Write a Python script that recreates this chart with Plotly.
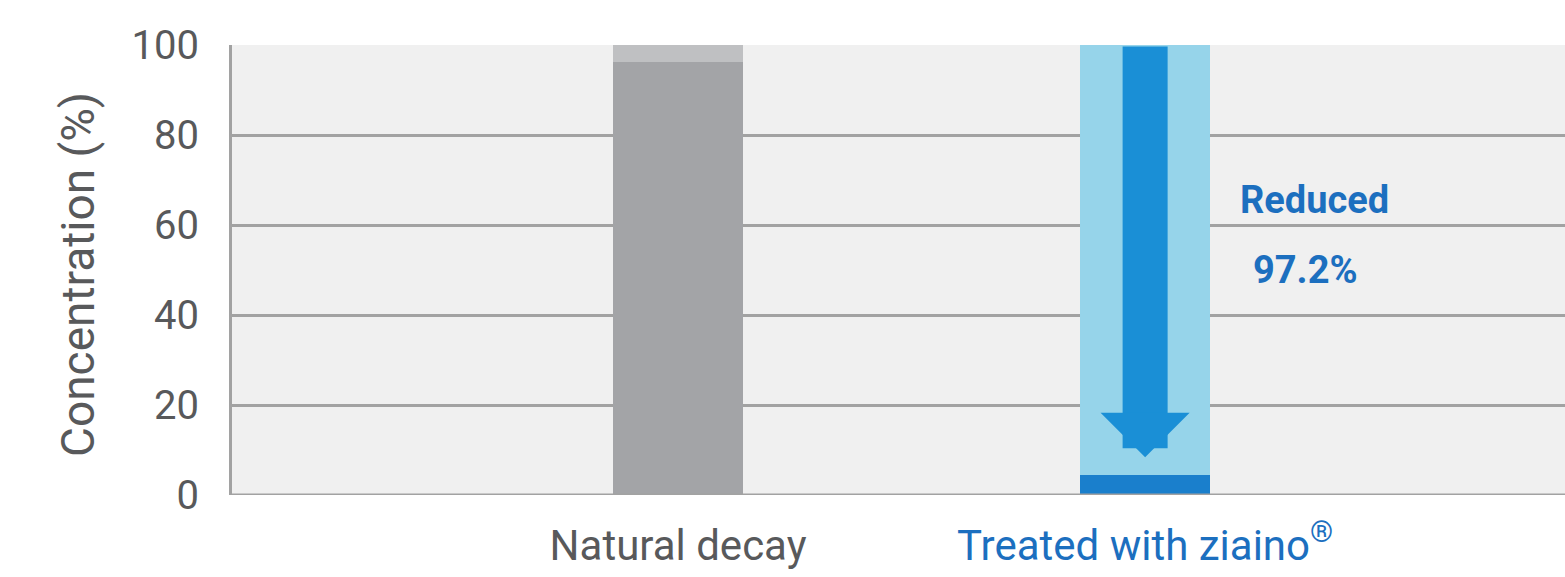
import plotly.graph_objects as go

categories = ["Natural decay", "Treated with ziaino®"]
remaining = [96.2, 4.4]          # concentration after treatment (%)
initial = [100, 100]             # initial concentration (%)
reduction_title = "Reduced"
reduction_value = "97.2%"
y_ticks = [0, 20, 40, 60, 80, 100]

FONT = "Roboto, Liberation Sans, sans-serif"
GRAY_TXT = "#58595b"
BLUE_TXT = "#1c6fbf"
GRID = "#a2a2a2"

top_part = [i - r for i, r in zip(initial, remaining)]
x_idx = list(range(len(categories)))

fig = go.Figure()
fig.add_trace(go.Bar(
    x=x_idx, y=remaining, width=0.278,
    marker=dict(color=["#a3a4a7", "#1a7fcc"], line=dict(width=0)),
    hoverinfo="skip", showlegend=False,
))
fig.add_trace(go.Bar(
    x=x_idx, y=top_part, width=0.278,
    marker=dict(color=["#bfc0c2", "#96d4ea"], line=dict(width=0)),
    hoverinfo="skip", showlegend=False,
))

# reduction arrow on treated bar
fig.add_annotation(
    x=1, y=remaining[1] + 4, ax=1, ay=initial[1],
    xref="x", yref="y", axref="x", ayref="y",
    showarrow=True, arrowhead=1, arrowsize=0.33, arrowwidth=45,
    arrowcolor="#1a8fd6", text="",
)
fig.add_annotation(
    x=1.362, y=65.6, xref="x", yref="y", text="<b>" + reduction_title + "</b>",
    showarrow=False, font=dict(family=FONT, size=38, color=BLUE_TXT),
    xanchor="center", yanchor="middle",
)
fig.add_annotation(
    x=1.343, y=50, xref="x", yref="y", text="<b>" + reduction_value + "</b>",
    showarrow=False, font=dict(family=FONT, size=38, color=BLUE_TXT),
    xanchor="center", yanchor="middle",
)
fig.add_annotation(
    x=-0.1155, y=0.489, xref="paper", yref="paper", text="Concentration (%)",
    textangle=-90, showarrow=False, xanchor="center", yanchor="middle",
    font=dict(family=FONT, size=46, color=GRAY_TXT),
)

ticktext = [
    f'<span style="color:{GRAY_TXT}">{categories[0]}</span>',
    f'<span style="color:{BLUE_TXT}">Treated with ziaino<sup>®</sup></span>',
]

fig.update_layout(
    barmode="stack", bargap=0,
    width=1565, height=577,
    margin=dict(l=232, r=0, t=45, b=82),
    paper_bgcolor="white", plot_bgcolor="#f0f0f0",
    font=dict(family=FONT, color=GRAY_TXT),
    xaxis=dict(
        range=[-0.955, 1.899], tickvals=x_idx, ticktext=ticktext,
        showgrid=False, zeroline=False, showline=False, ticks="",
        tickfont=dict(size=42), ticklabelstandoff=22, automargin=False,
    ),
    yaxis=dict(
        range=[0, 100], tickvals=y_ticks, showgrid=True,
        gridcolor=GRID, gridwidth=3, zeroline=False,
        showline=True, linecolor=GRID, linewidth=3, mirror=False,
        ticks="", tickfont=dict(size=40, color=GRAY_TXT), ticklabelstandoff=22,
        automargin=False,
    ),
)
fig.add_shape(type="line", xref="paper", yref="y", x0=0, x1=1, y0=0, y1=0,
              line=dict(color=GRID, width=3), layer="above")

# remove the default 8px body margin so the figure fills the window exactly
fig.write_html("out.html", config={"displayModeBar": False},
               post_script="document.body.style.margin='0';")
